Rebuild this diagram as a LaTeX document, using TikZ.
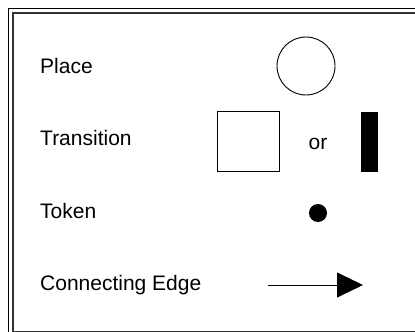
\documentclass[tikz,border=0pt]{standalone}
\usepackage{fontspec}
\setmainfont{Liberation Sans}
\usetikzlibrary{arrows.meta}
\begin{document}
\begin{tikzpicture}[x=1pt,y=-1pt,
  txt/.style={inner sep=0pt,font=\fontsize{21}{24}\selectfont},
  lbl/.style={txt,anchor=west},
  frm/.style={line width=1.4pt}]
\useasboundingbox (0,0) rectangle (415,332);
\clip (0,0) rectangle (415,332);
\draw[frm] (8.5,8.5) rectangle (430,350);
\draw[frm,black!80] (13,13) rectangle (425,331.2);
\node[lbl] (place) at (40,66) {Place};
\node[lbl] (trans) at (40,138) {Transition};
\node[lbl] (token) at (40,211) {Token};
\node[lbl] (edge) at (40,285) {Connecting Edge};
\node[draw,circle,minimum size=58pt,inner sep=0pt,line width=0.9pt] (pc) at (306,66) {};
\node[draw,rectangle,minimum width=62pt,minimum height=60pt,inner sep=0pt,line width=0.9pt] (sq) at (248,141) {};
\node[txt] (or) at (318,144) {or};
\node[fill=black,minimum width=17pt,minimum height=60pt,inner sep=0pt] (bar) at (369,142) {};
\node[fill=black,circle,minimum size=18pt,inner sep=0pt] (tok) at (318,213) {};
\coordinate (a1) at (268,285);
\coordinate (a2) at (363,285);
\draw[line width=0.9pt,-{Triangle[length=26pt,width=25pt]}] (a1) -- (a2);
\end{tikzpicture}
\end{document}
